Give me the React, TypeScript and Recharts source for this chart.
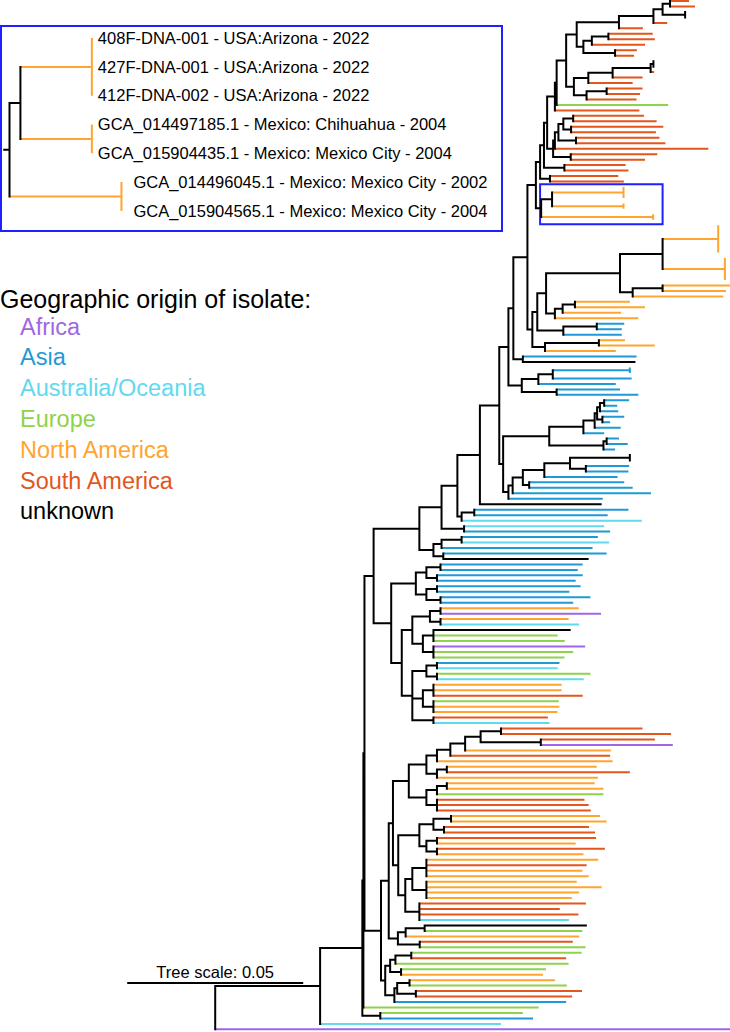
import React from "react";
import { ComposedChart, Line, XAxis, YAxis, ReferenceLine, ReferenceArea, Scatter } from "recharts";

// regions used for leaf colours
const regionCodes = "FAOENSU";
const regionNames = ["Africa", "Asia", "Australia/Oceania", "Europe", "North America", "South America", "unknown"];
const regionColors = ["#a066e6", "#1f9ad6", "#62d9ee", "#8fd24b", "#ffa52f", "#e3561c", "#000000"];

// leaves top to bottom, one letter per leaf (see regionCodes)
const leafRegion = [
  "SSUUSSSSSSS", "UUSSSSSS", "ES", "SSSSSSSSSSSSS",
  "NNNNNNNNNNNNNNNNNNNNN", "NNNN", "AAA", "NNN",
  "AU", "AAAAAAAAAAAAAAAA", "UU", "AAAAAAA", "U",
  "AAOOAAOAAU",
  "AAAAAAAA", "NFNOUEEFEE", "AOEONNSENN", "SO",
  "SSSFNSNN", "SNNNESSSNN", "SSSNSNNSNN", "NNNNSSSOUE", "NSEESEENNE", "SSAEEAOF",
].join("");

// distance of each leaf from the root (x 0.001 substitutions/site)
const leafTip = [
  134.6, 136.3, 133.5, 133.5, 128.4, 121.5, 124.3, 124.9, 122.1, 119.8,
  119.0, 124.5, 124.5, 124.7, 121.4, 118.6, 121.4, 120.7, 119.7, 128.7,
  120.5, 121.8, 125.4, 127.3, 125.2, 126.2, 127.9, 140.1, 125.6, 122.1,
  116.6, 117.4, 114.5, 116.1, 116.0, 116.0, 116.0, 116.0, 116.0, 124.4,
  124.4, 142.9, 142.9, 142.9, 142.9, 142.9, 142.9, 144.8, 144.8, 144.8,
  144.8, 144.8, 146.3, 145.1, 144.3, 117.8, 122.1, 115.3, 120.2, 116.2,
  115.5, 115.5, 116.4, 124.9, 113.8, 119.7, 119.1, 117.8, 117.8, 118.3,
  113.8, 115.0, 120.2, 117.6, 114.2, 114.5, 116.2, 112.2, 115.2, 110.5,
  114.7, 117.2, 113.6, 117.8, 117.8, 117.6, 117.4, 114.3, 116.2, 118.6,
  123.8, 110.1, 109.5, 117.4, 111.5, 121.2, 110.5, 112.2, 108.7, 111.9,
  107.2, 111.2, 105.8, 104.4, 103.0, 104.4, 102.4, 103.8, 100.6, 106.6,
  101.7, 103.3, 109.6, 100.4, 103.4, 100.7, 97.3, 99.3, 105.1, 101.7,
  99.2, 97.8, 97.3, 106.6, 104.7, 98.4, 98.4, 104.4, 97.6, 97.8,
  97.2, 94.5, 95.0, 121.4, 129.5, 124.9, 130.0, 112.4, 112.2, 112.9,
  108.4, 117.8, 108.7, 107.8, 110.3, 110.3, 104.9, 106.1, 106.7, 109.3,
  111.2, 106.2, 107.9, 108.2, 102.4, 110.7, 104.6, 108.8, 105.5, 104.3,
  106.1, 102.7, 109.8, 103.4, 101.3, 105.3, 97.9, 103.2, 100.5, 105.3,
  104.3, 103.4, 101.6, 105.2, 104.1, 99.7, 100.4, 94.0, 93.1, 96.5,
  99.9, 104.2, 101.4, 99.7, 91.9, 87.4, 90.3, 81.2, 146.3,
];

// internal nodes: [first leaf, last leaf, distance from root]
const nodesTop = [
  [0, 1, 129.2], [2, 3, 133.5], [0, 3, 127.1], [0, 4, 124.5], [0, 5, 114.7],
  [6, 7, 111.7], [6, 8, 107.0], [9, 10, 113.6], [6, 10, 104.6], [0, 10, 102.7],
  [11, 12, 124.5], [11, 13, 123.7], [11, 14, 112.9], [11, 15, 106.0], [16, 17, 111.2], [16, 18, 105.5], [11, 18, 101.9],
  [0, 18, 99.7], [0, 19, 97.0], [0, 20, 96.5],
  [21, 22, 101.7], [23, 24, 101.1], [21, 24, 98.9], [25, 26, 102.5], [21, 26, 97.5], [21, 27, 96.5], [28, 29, 101.0], [21, 29, 96.0],
  [0, 29, 94.3], [30, 31, 99.2], [0, 31, 93.4], [32, 33, 95.1], [0, 33, 92.3],
  [34, 36, 116.0], [37, 38, 116.0], [34, 38, 95.7], [39, 40, 124.4], [34, 40, 92.6], [0, 40, 91.1],
];

const nodesUpper = [
  [41, 46, 142.9], [47, 51, 144.8], [41, 51, 127.1], [52, 53, 127.1], [52, 54, 118.6], [41, 54, 115.0],
  [55, 56, 102.2], [55, 57, 98.7], [55, 58, 96.5], [41, 58, 94.0], [59, 60, 108.4], [59, 61, 98.9], [41, 61, 91.5],
  [62, 63, 109.0], [62, 64, 93.7], [41, 64, 90.1], [0, 64, 88.7], [65, 66, 87.4], [0, 66, 84.7],
  [67, 68, 117.8], [67, 69, 95.9], [67, 70, 91.8], [71, 72, 97.0], [67, 72, 87.1], [0, 72, 83.3],
  [73, 74, 110.5], [73, 75, 109.3], [76, 77, 110.0], [73, 77, 108.5], [73, 78, 107.8], [73, 79, 104.6],
  [80, 81, 111.2], [80, 82, 110.3], [73, 82, 94.9],
  [83, 84, 117.8], [85, 86, 105.3], [83, 86, 100.8], [83, 87, 93.5], [88, 89, 89.2], [83, 89, 87.4], [83, 90, 84.5], [83, 91, 83.3], [73, 91, 81.8],
  [0, 91, 80.7], [0, 92, 75.2], [93, 94, 73.6], [93, 95, 70.0], [0, 95, 68.8], [96, 97, 70.7], [0, 97, 64.3],
  [98, 99, 70.0], [98, 100, 64.3], [101, 102, 64.8], [98, 102, 62.0], [0, 102, 58.0],
];

const nodesMiddle = [
  [103, 104, 64], [105, 106, 63], [103, 106, 60], [107, 108, 63], [109, 110, 64], [107, 110, 60], [103, 110, 57],
  [111, 112, 64], [113, 114, 64], [111, 114, 61], [115, 117, 62], [118, 120, 62], [115, 120, 59], [111, 120, 56],
  [121, 122, 63], [123, 124, 63], [121, 124, 60], [125, 127, 62], [128, 130, 62], [125, 130, 59], [131, 132, 62], [121, 132, 56],
  [111, 132, 53], [103, 132, 50], [0, 132, 45],
];

const nodesLower = [
  [133, 134, 81.2], [135, 136, 92.5], [133, 136, 75.4], [133, 137, 71.0], [133, 138, 66.8], [133, 139, 63],
  [140, 141, 65.8], [140, 142, 63], [133, 142, 60], [143, 144, 65.8], [143, 145, 63], [146, 148, 63], [143, 148, 60], [133, 148, 55],
  [149, 150, 67.0], [151, 152, 65.0], [149, 152, 62], [153, 154, 63], [155, 156, 63], [153, 156, 60], [149, 156, 58],
  [157, 160, 60], [161, 164, 60], [157, 164, 56], [165, 168, 58], [157, 168, 54], [149, 168, 52], [133, 168, 50.5],
  [169, 170, 59.5], [169, 171, 54.1], [172, 173, 58.1], [169, 173, 51.9], [133, 173, 49.3],
  [174, 175, 55.7], [174, 176, 51.2], [177, 178, 52.8], [174, 178, 49.7], [179, 180, 55.2], [181, 182, 57.0],
  [179, 182, 51.7], [179, 183, 50.9], [174, 183, 48.3], [133, 183, 47.1],
];

const nodesRoot = [
  [0, 183, 42.4], [0, 184, 42.1], [185, 186, 46.9], [0, 186, 41.8], [0, 187, 29.8], [0, 188, 0],
];

// zoomed clade shown in the inset
const insetFirst = 34;
const insetLast = 40;
const insetLabels = [
  "408F-DNA-001 - USA:Arizona - 2022",
  "427F-DNA-001 - USA:Arizona - 2022",
  "412F-DNA-002 - USA:Arizona - 2022",
  "GCA_014497185.1 - Mexico: Chihuahua - 2004",
  "GCA_015904435.1 - Mexico: Mexico City - 2004",
  "GCA_014496045.1 - Mexico: Mexico City - 2002",
  "GCA_015904565.1 - Mexico: Mexico City - 2004",
];
const insetLabelGap = [6, 6, 6, 6, 6, 12, 12];

const scaleBar = 50; // 0.05 subs/site
const FONT = "'Liberation Sans', Arial, sans-serif";
const BLUE = "#1f1fff";

const colorOf = (code: string) => regionColors[regionCodes.indexOf(code)];

function buildTree() {
  const nodes = [...nodesTop, ...nodesUpper, ...nodesMiddle, ...nodesLower, ...nodesRoot]
    .map(([from, to, depth]) => ({ from, to, depth, parent: -1, subs: [] as number[], leaves: [] as number[], y: 0, lo: 0, hi: 0, color: "#000000" }))
    .sort((a, b) => (a.to - a.from) - (b.to - b.from) || b.depth - a.depth);
  const inside = (n: any, a: number, b: number) => n.from <= a && b <= n.to;
  nodes.forEach((n, i) => {
    for (let j = i + 1; j < nodes.length; j++) {
      if (inside(nodes[j], n.from, n.to)) { n.parent = j; nodes[j].subs.push(i); break; }
    }
  });
  const leafParent = leafTip.map((_, l) => {
    const j = nodes.findIndex((n) => inside(n, l, l));
    nodes[j].leaves.push(l);
    return j;
  });
  nodes.forEach((n) => {
    const ys = [...n.leaves, ...n.subs.map((s) => nodes[s].y)];
    n.lo = Math.min(...ys);
    n.hi = Math.max(...ys);
    n.y = (n.lo + n.hi) / 2;
    const regs = Array.from(new Set(n.leaves.map((l) => leafRegion[l])));
    const flat = n.subs.length === 0 && regs.length === 1 && n.leaves.every((l) => leafTip[l] - n.depth < 0.3);
    if (flat) n.color = colorOf(regs[0]);
  });
  return { nodes, leafParent };
}

const tree = buildTree();

function treeSeries(from: number, to: number) {
  const buckets: Record<string, any[]> = {};
  const add = (c: string, x1: number, y1: number, x2: number, y2: number) => {
    (buckets[c] = buckets[c] || []).push({ x: x1, y: y1 - from }, { x: x2, y: y2 - from }, { x: null, y: null });
  };
  tree.nodes.forEach((n) => {
    if (n.from < from || n.to > to) return;
    if (n.parent >= 0) add(n.color, tree.nodes[n.parent].depth, n.y, n.depth, n.y);
    add(n.color, n.depth, n.lo, n.depth, n.hi);
  });
  for (let l = from; l <= to; l++) {
    const p = tree.nodes[tree.leafParent[l]];
    if (leafTip[l] > p.depth + 0.01) add(colorOf(leafRegion[l]), p.depth, l, leafTip[l], l);
  }
  return Object.entries(buckets).sort((a, b) => (a[0] === "#000000" ? 1 : 0) - (b[0] === "#000000" ? 1 : 0));
}

function renderLines(series: [string, any[]][]) {
  return series.map(([color, pts]) => (
    <Line
      key={color}
      data={pts}
      dataKey="y"
      stroke={color}
      strokeWidth={2}
      strokeLinecap={color === "#000000" ? "square" : "butt"}
      dot={false}
      activeDot={false}
      connectNulls={false}
      isAnimationActive={false}
      legendType="none"
    />
  ));
}

function InsetLabel(props: any) {
  const { cx, cy, payload } = props;
  return (
    <text x={cx + payload.gap} y={cy} dy="0.35em" fontSize={16.5} fontFamily={FONT} fill="#000">
      {payload.name}
    </text>
  );
}

export default function App() {
  const mainSeries = treeSeries(0, leafTip.length - 1);
  const insetSeries = treeSeries(insetFirst, insetLast);
  const labelData = insetLabels.map((name, i) => ({ x: leafTip[insetFirst + i], y: i, name, gap: insetLabelGap[i] }));
  const insetMaxTip = Math.max(...leafTip.slice(insetFirst, insetLast + 1));

  return (
    <div style={{ position: "absolute", left: 0, top: 0, width: 730, height: 1032, background: "#fff", fontFamily: FONT }}>
      <ComposedChart width={730} height={1032} margin={{ top: 0, right: 0, bottom: 0, left: 0 }}>
        <XAxis type="number" dataKey="x" domain={[-61.14, 146.25]} hide allowDataOverflow />
        <YAxis type="number" dataKey="y" domain={[-0.183, 188.48]} reversed hide allowDataOverflow />
        {renderLines(mainSeries as any)}
        <ReferenceArea
          x1={92.3}
          x2={insetMaxTip + 2.7}
          y1={insetFirst - 0.5}
          y2={insetLast + 0.8}
          fill="none"
          stroke={BLUE}
          strokeWidth={2}
          ifOverflow="visible"
        />
        <ReferenceLine
          segment={[{ x: -scaleBar / 2, y: 179.5 }, { x: scaleBar / 2, y: 179.5 }]}
          stroke="#000"
          strokeWidth={2}
          ifOverflow="visible"
          label={{ value: "Tree scale: 0.05", position: "top", fill: "#000", fontSize: 16.5, fontFamily: FONT }}
        />
      </ComposedChart>

      <div
        style={{
          position: "absolute", left: 0, top: 25, width: 503, height: 207,
          border: `2px solid ${BLUE}`, boxSizing: "border-box", background: "#fff",
        }}
      />
      <div style={{ position: "absolute", left: 0, top: 0 }}>
        <ComposedChart width={503} height={232} margin={{ top: 0, right: 0, bottom: 0, left: 0 }}>
          <XAxis type="number" dataKey="x" domain={[89.9, 89.9 + 503 / 3.52]} hide allowDataOverflow />
          <YAxis type="number" dataKey="y" domain={[-1.323, 6.733]} reversed hide allowDataOverflow />
          {renderLines(insetSeries as any)}
          <Scatter data={labelData} shape={InsetLabel} isAnimationActive={false} legendType="none" />
        </ComposedChart>
      </div>

      <div style={{ position: "absolute", left: 0, top: 287, fontSize: 25, lineHeight: "25px", color: "#000", whiteSpace: "nowrap" }}>
        Geographic origin of isolate:
      </div>
      {regionNames.map((name, i) => (
        <div
          key={name}
          style={{
            position: "absolute", left: 20, top: 315.5 + i * 30.8, fontSize: 23.5, lineHeight: "23.5px",
            color: regionColors[i], whiteSpace: "nowrap",
          }}
        >
          {name}
        </div>
      ))}
    </div>
  );
}
